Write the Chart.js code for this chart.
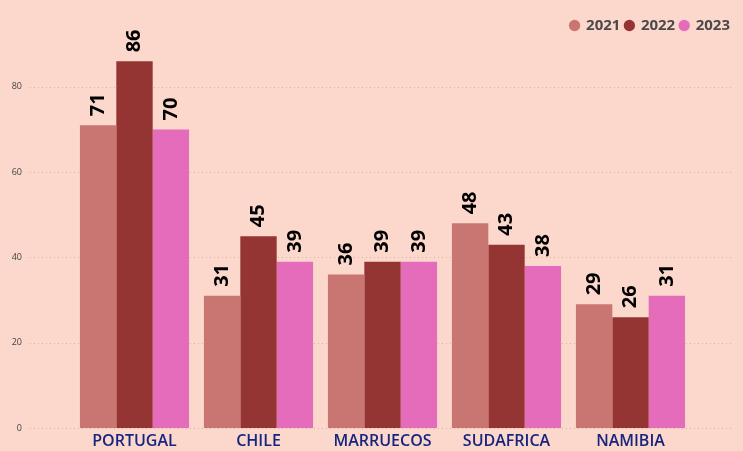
<!DOCTYPE html>
<html><head><meta charset="utf-8">
<script src="https://cdn.jsdelivr.net/npm/chart.js@4.4.0/dist/chart.umd.min.js"></script>
<style>html,body{margin:0;padding:0;background:#FBD7CC;}#wrap{width:743px;height:451px;}</style>
</head><body><div id="wrap"><canvas id="c" width="743" height="451"></canvas></div>
<script>
const categories = ['PORTUGAL','CHILE','MARRUECOS','SUDAFRICA','NAMIBIA'];
const seriesNames = ['2021','2022','2023'];
const v2021 = [71,31,36,48,29];
const v2022 = [86,45,39,43,26];
const v2023 = [70,39,39,38,31];
const yTicks = [0,20,40,60,80];
const colors = ['#C97672','#953533','#E46CBB'];

const gridPlugin = {
  id:'grid',
  beforeDatasetsDraw(chart){
    const ctx=chart.ctx, y=chart.scales.y;
    ctx.save();
    ctx.strokeStyle='rgba(120,90,80,0.28)';
    ctx.lineWidth=1;
    ctx.setLineDash([1,3]);
    yTicks.forEach(v=>{
      const py=Math.round(y.getPixelForValue(v))+0.5;
      ctx.beginPath();ctx.moveTo(30,py);ctx.lineTo(733,py);ctx.stroke();
    });
    ctx.restore();
  }
};
const labelPlugin = {
  id:'vlabels',
  afterDatasetsDraw(chart){
    const ctx=chart.ctx;
    ctx.save();
    ctx.fillStyle='#000';
    ctx.font='bold 20px "Open Sans"';
    ctx.textAlign='left';ctx.textBaseline='middle';
    chart.data.datasets.forEach((ds,i)=>{
      chart.getDatasetMeta(i).data.forEach((bar,j)=>{
        ctx.save();
        ctx.translate(bar.x, bar.y-9);
        ctx.rotate(-Math.PI/2);
        ctx.fillText(String(ds.data[j]),0,0);
        ctx.restore();
      });
    });
    ctx.restore();
  }
};
new Chart(document.getElementById('c'),{
  type:'bar',
  data:{labels:categories,datasets:[
    {label:seriesNames[0],data:v2021,backgroundColor:colors[0]},
    {label:seriesNames[1],data:v2022,backgroundColor:colors[1]},
    {label:seriesNames[2],data:v2023,backgroundColor:colors[2]}
  ]},
  options:{
    responsive:false,animation:false,
    layout:{autoPadding:false,padding:{top:13,right:8,left:0,bottom:-3}},
    datasets:{bar:{categoryPercentage:0.88,barPercentage:1.0}},
    plugins:{
      tooltip:{enabled:false},
      legend:{position:'top',align:'end',
        labels:{usePointStyle:true,pointStyle:'circle',boxWidth:8,boxHeight:8,padding:5,
          color:'#4a4a4a',font:{family:'"Open Sans"',size:15,weight:'bold'}}}
    },
    scales:{
      x:{grid:{display:false,drawTicks:false},border:{display:false},
        ticks:{color:'#16257E',padding:3,maxRotation:0,minRotation:0,autoSkip:false,font:{family:'"Open Sans"',size:16,weight:600,lineHeight:1.25}}},
      y:{min:0,max:90.3,weight:2,grid:{display:false,drawTicks:false},border:{display:false},
        afterBuildTicks(s){s.ticks=yTicks.map(v=>({value:v}));},
        afterFit(s){s.width=26;},
        ticks:{color:'#444',padding:4,font:{family:'"Open Sans"',size:9}}},
      yspace:{position:'left',weight:0,display:true,grid:{display:false,drawTicks:false},border:{display:false},
        ticks:{display:false},afterFit(s){s.width=46.5;}},
      y2:{position:'right',display:true,grid:{display:false,drawTicks:false},border:{display:false},
        ticks:{display:false},afterFit(s){s.width=42.5;}}
    }
  },
  plugins:[gridPlugin,labelPlugin]
});
</script></body></html>
